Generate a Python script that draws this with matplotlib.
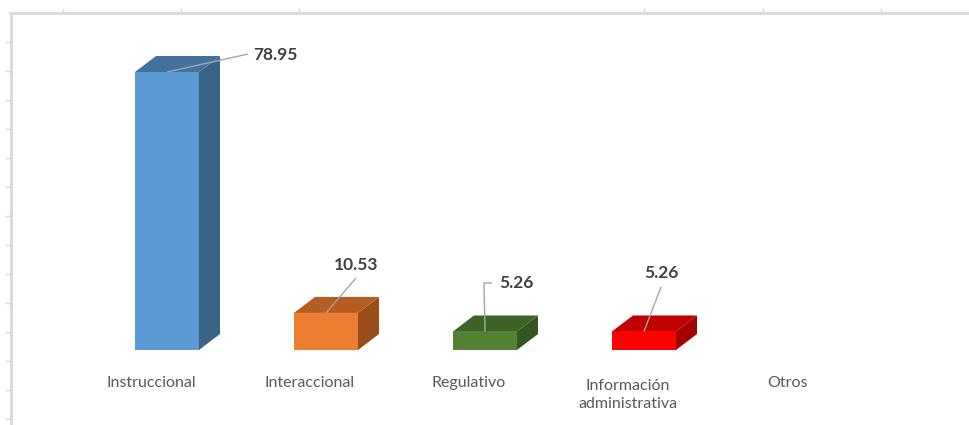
import matplotlib
matplotlib.use("Agg")
import matplotlib.pyplot as plt
from matplotlib.patches import Polygon

categories = ["Instruccional", "Interaccional", "Regulativo",
              "Información\nadministrativa", "Otros"]
values = [78.95, 10.53, 5.26, 5.26, 0.0]
labels = ["78.95", "10.53", "5.26", "5.26", None]

front_colors = ["#5b9bd5", "#ed7d31", "#548235", "#ff0000"]
top_colors = ["#41719c", "#b55d22", "#3e6328", "#c00000"]
side_colors = ["#386387", "#9a4d19", "#345420", "#a30000"]

W, H = 969, 425
fig = plt.figure(figsize=(W / 100, H / 100), dpi=100)
ax = fig.add_axes([0, 0, 1, 1])

# pixel layout of the category axis and value axis
x0_px, step_px = 167, 159
base_px, px_per_unit = 350, 3.521
ax.set_xlim((0 - x0_px) / step_px, (W - x0_px) / step_px)
ax.set_ylim((base_px - H) / px_per_unit, base_px / px_per_unit)
ax.axis("off")

half_w = 32 / step_px
dx = 21 / step_px
dy = 16 / px_per_unit

def px(xp, yp):
    # pixel position -> data position
    return (xp - x0_px) / step_px, (base_px - yp) / px_per_unit

for i, v in enumerate(values):
    if v <= 0:
        continue
    l, r = i - half_w, i + half_w
    front = [(l, 0), (r, 0), (r, v), (l, v)]
    top = [(l, v), (r, v), (r + dx, v + dy), (l + dx, v + dy)]
    side = [(r, 0), (r + dx, dy), (r + dx, v + dy), (r, v)]
    ax.add_patch(Polygon(side, closed=True, fc=side_colors[i], ec="none"))
    ax.add_patch(Polygon(top, closed=True, fc=top_colors[i], ec="none"))
    ax.add_patch(Polygon(front, closed=True, fc=front_colors[i], ec="none"))

# data labels with leader lines
label_pos = [(275, 55), (356, 265), (516, 283), (661, 273)]
leader_ends = [[(248, 54)], [(356, 278)], [(484, 283), (492, 283)], [(661, 287)]]
for i, lab in enumerate(labels):
    if lab is None:
        continue
    start = (i + 0.0, values[i])
    pts = [start] + [px(*p) for p in leader_ends[i]]
    xs = [p[0] for p in pts]
    ys = [p[1] for p in pts]
    ax.plot(xs, ys, color="#a6a6a6", lw=1.0, solid_capstyle="butt")
    tx, ty = px(*label_pos[i])
    ax.text(tx, ty, lab, ha="center", va="center", fontsize=12.5,
            fontweight="bold", color="#404040", family="Lato")

# category labels, shifted left for the perspective
for i, cat in enumerate(categories):
    yc = 395 if "\n" in cat else 383
    tx, ty = px(x0_px + step_px * i - 16, yc)
    ax.text(tx, ty, cat, ha="center", va="center", fontsize=11.5,
            color="#595959", family="Lato", linespacing=1.45)

# wall edges: left vertical line and top horizontal line
grey = "#d9d9d9"
ax.plot(*zip(px(11, 13), px(11, 425)), color=grey, lw=2)
ax.plot(*zip(px(10, 13), px(969, 13)), color=grey, lw=2)
for yp in range(42, 425, 29):
    ax.plot(*zip(px(6, yp), px(11, yp)), color=grey, lw=1)
for xp in [63, 181, 299, 644, 763, 881]:
    ax.plot(*zip(px(xp, 9), px(xp, 13)), color=grey, lw=1)

fig.savefig("out.png", dpi=100, facecolor="white")
